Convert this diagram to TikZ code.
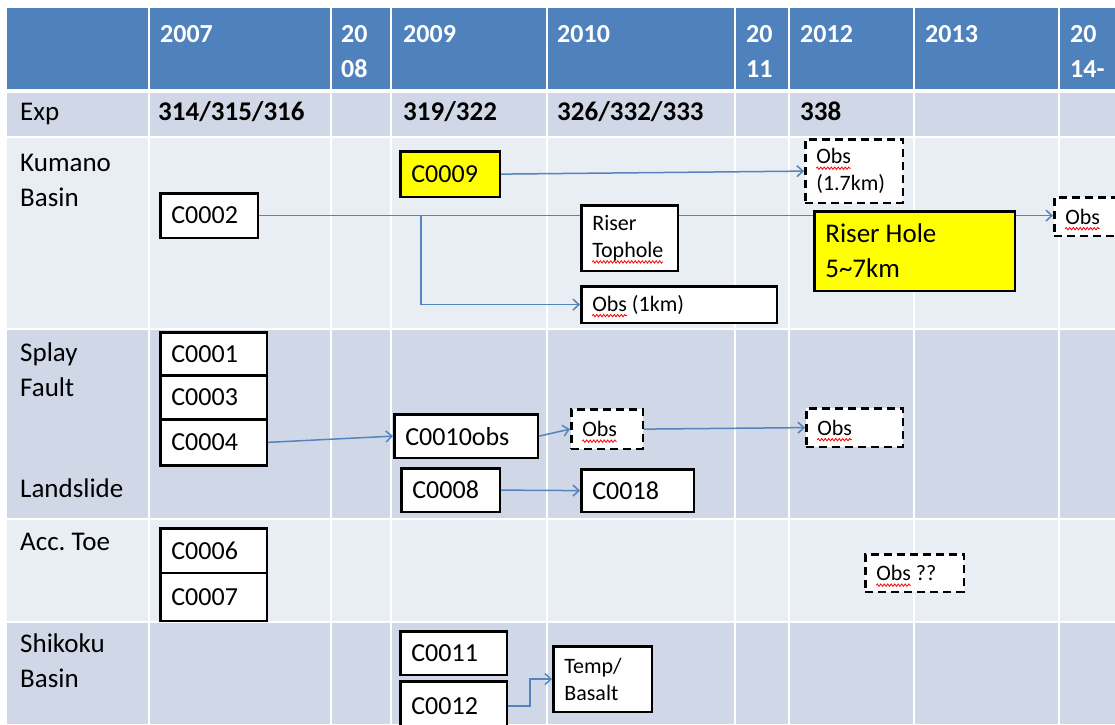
\documentclass[tikz,border=0pt]{standalone}
\usepackage{fontspec}
\setmainfont{Carlito}
\usetikzlibrary{arrows.meta,positioning,decorations.pathmorphing}
\definecolor{hdrblue}{RGB}{79,129,189}
\definecolor{rowdark}{RGB}{208,216,232}
\definecolor{rowlight}{RGB}{233,237,244}
\definecolor{linkblue}{RGB}{84,132,190}
\definecolor{boxyellow}{RGB}{255,255,0}
% red spell-check wave under a word
\newsavebox{\spellbox}
\newcommand{\spellmark}[1]{\sbox{\spellbox}{#1}%
  \tikz[overlay, baseline=0pt]\draw[red, line width=0.8pt, decorate,
    decoration={zigzag, amplitude=1.2pt, segment length=3.5pt}]
    (0pt,-4.5pt) -- (\wd\spellbox,-4.5pt);%
  \usebox{\spellbox}}
\pgfdeclarelayer{grid}
\pgfdeclarelayer{links}
\pgfsetlayers{grid,links,main}

\begin{document}
\frenchspacing
\begin{tikzpicture}[x=1pt, y=-1pt,
  lbl/.style={anchor=base west, inner sep=0pt, align=flush left,
              font=\fontsize{27}{35}\selectfont},
  yr/.style={lbl, text=white, font=\bfseries\fontsize{26}{35}\selectfont},
  expno/.style={lbl, font=\bfseries\fontsize{27}{35}\selectfont},
  core/.style={draw, line width=2.7pt, fill=white, anchor=north west,
               inner xsep=11pt, inner ysep=0pt, align=flush left,
               text width=#1pt, font=\fontsize{26}{32}\selectfont},
  note/.style={core=#1, font=\fontsize{22}{27}\selectfont},
  obs/.style={note=#1, dash pattern=on 8pt off 5pt},
  hot/.style={fill=boxyellow},
  link/.style={draw=linkblue, line width=1.5pt,
               -{Straight Barb[length=6pt,width=11pt]}}
]
  \useasboundingbox (0,0) rectangle (1115,724);
  \clip (0,0) rectangle (1115,724);

  % Table background
  \begin{pgfonlayer}{grid}
    \fill[white] (0,0) rectangle (1115,724);
    \fill[hdrblue]  (7,8)   rectangle (1115,89);
    \fill[rowdark]  (7,93)  rectangle (1115,136);
    \fill[rowlight] (7,138) rectangle (1115,328);
    \fill[rowdark]  (7,330) rectangle (1115,518);
    \fill[rowlight] (7,520) rectangle (1115,621);
    \fill[rowdark]  (7,623) rectangle (1115,724);
    \foreach \x in {149,331,391,547,735,789,914,1059}
      \draw[white, line width=2.5pt] (\x,8) -- (\x,724);
  \end{pgfonlayer}

  % Years (two-line cells sit on their last baseline)
  \foreach \x/\y/\t [count=\i] in {160/42/2007, 341/77/{20\\08}, 403/42/2009,
                                   557/42/2010, 746/77/{20\\11}, 800/42/2012,
                                   925/42/2013, 1070/77/{20\\14-}}
    \node[yr] (yr\i) at (\x,\y) {\t};

  % Expeditions
  \node[lbl] (exp) at (20,120) {Exp};
  \node[expno] (exp1) at (158,120) {314/315/316};
  \node[expno] (exp2) at (403,120) {319/322};
  \node[expno] (exp3) at (557,120) {326/332/333};
  \node[expno] (exp4) at (800,120) {338};

  % Sites
  \node[lbl] (kumano)  at (20,206) {Kumano\\Basin};
  \node[lbl] (splay)   at (20,396) {Splay\\Fault};
  \node[lbl] (slide)   at (20,497) {Landslide};
  \node[lbl] (toe)     at (20,550) {Acc. Toe};
  \node[lbl] (shikoku) at (20,687) {Shikoku\\Basin};

  % Kumano Basin
  \node[core=77.5, hot, minimum height=45.5] (c0009) at (399,150) {C0009};
  \node[core=75.5, minimum height=44.5] (c0002) at (159,192) {C0002};
  \node[obs=75.5, minimum height=63.5] (obs17) at (804,138) {\spellmark{Obs}\\(1.7km)};
  \node[note=74.5, minimum height=65.5] (tophole) at (580,204) {Riser\\\spellmark{Tophole}};
  \node[core=178.5, hot, minimum height=79.5, font=\fontsize{27}{35}\selectfont]
    (riser) at (813,210) {Riser Hole\\5\textasciitilde7km};
  \node[obs=75.5, minimum height=38.5] (obsR) at (1053,196) {\spellmark{Obs}};
  \node[note=173.5, minimum height=36.5] (obs1km) at (580,285) {\spellmark{Obs} (1km)};

  % Splay Fault / Landslide
  \node[core=84.5, minimum height=43] (c0001) at (159,331) {C0001};
  \node[core=84.5, minimum height=44, below=-2.7pt of c0001] (c0003) {C0003};
  \node[core=84.5, minimum height=46, below=-2.7pt of c0003] (c0004) {C0004};
  \node[core=121.5, minimum height=43.5] (c0010) at (393,413) {C0010obs};
  \node[obs=49.5, minimum height=39.5] (obsA) at (570,408) {\spellmark{Obs}};
  \node[obs=74.5, minimum height=38.5] (obsB) at (805,407) {\spellmark{Obs}};
  \node[core=76.5, minimum height=43.5] (c0008) at (400,467) {C0008};
  \node[core=90.5, minimum height=42.5] (c0018) at (580,468) {C0018};

  % Acc. Toe
  \node[core=84.5, minimum height=44.5] (c0006) at (159,527) {C0006};
  \node[core=84.5, minimum height=48, below=-2.7pt of c0006] (c0007) {C0007};
  \node[obs=76.5, minimum height=37.5] (obsQ) at (864,553) {\spellmark{Obs} ??};

  % Shikoku Basin
  \node[core=84.5, minimum height=43.5] (c0011) at (399,630) {C0011};
  \node[core=84.5, minimum height=49.5] (c0012) at (399,680) {C0012};
  \node[note=76.5, minimum height=65.5] (temp) at (552,645) {Temp/\\Basalt};

  % Connectors
  \begin{pgfonlayer}{links}
    \path (c0002.east) ++(162,0) coordinate (split);
    \draw[link] (c0009.east) -- (obs17.west);
    \draw[link] (c0002.east) -- (c0002.east -| obsR.west);
    \draw[link] (split) |- (obs1km.west);
    \draw[link] (c0004.east) -- (c0010.west);
    \draw[link] (c0010.east) -- (obsA.west);
    \draw[link] (obsA.east) -- (obsB.west);
    \draw[link] (c0008.east) -- (c0018.west);
    \draw[link] (c0012.east) -- ++(22,0) |- (temp.west);
  \end{pgfonlayer}
\end{tikzpicture}
\end{document}
